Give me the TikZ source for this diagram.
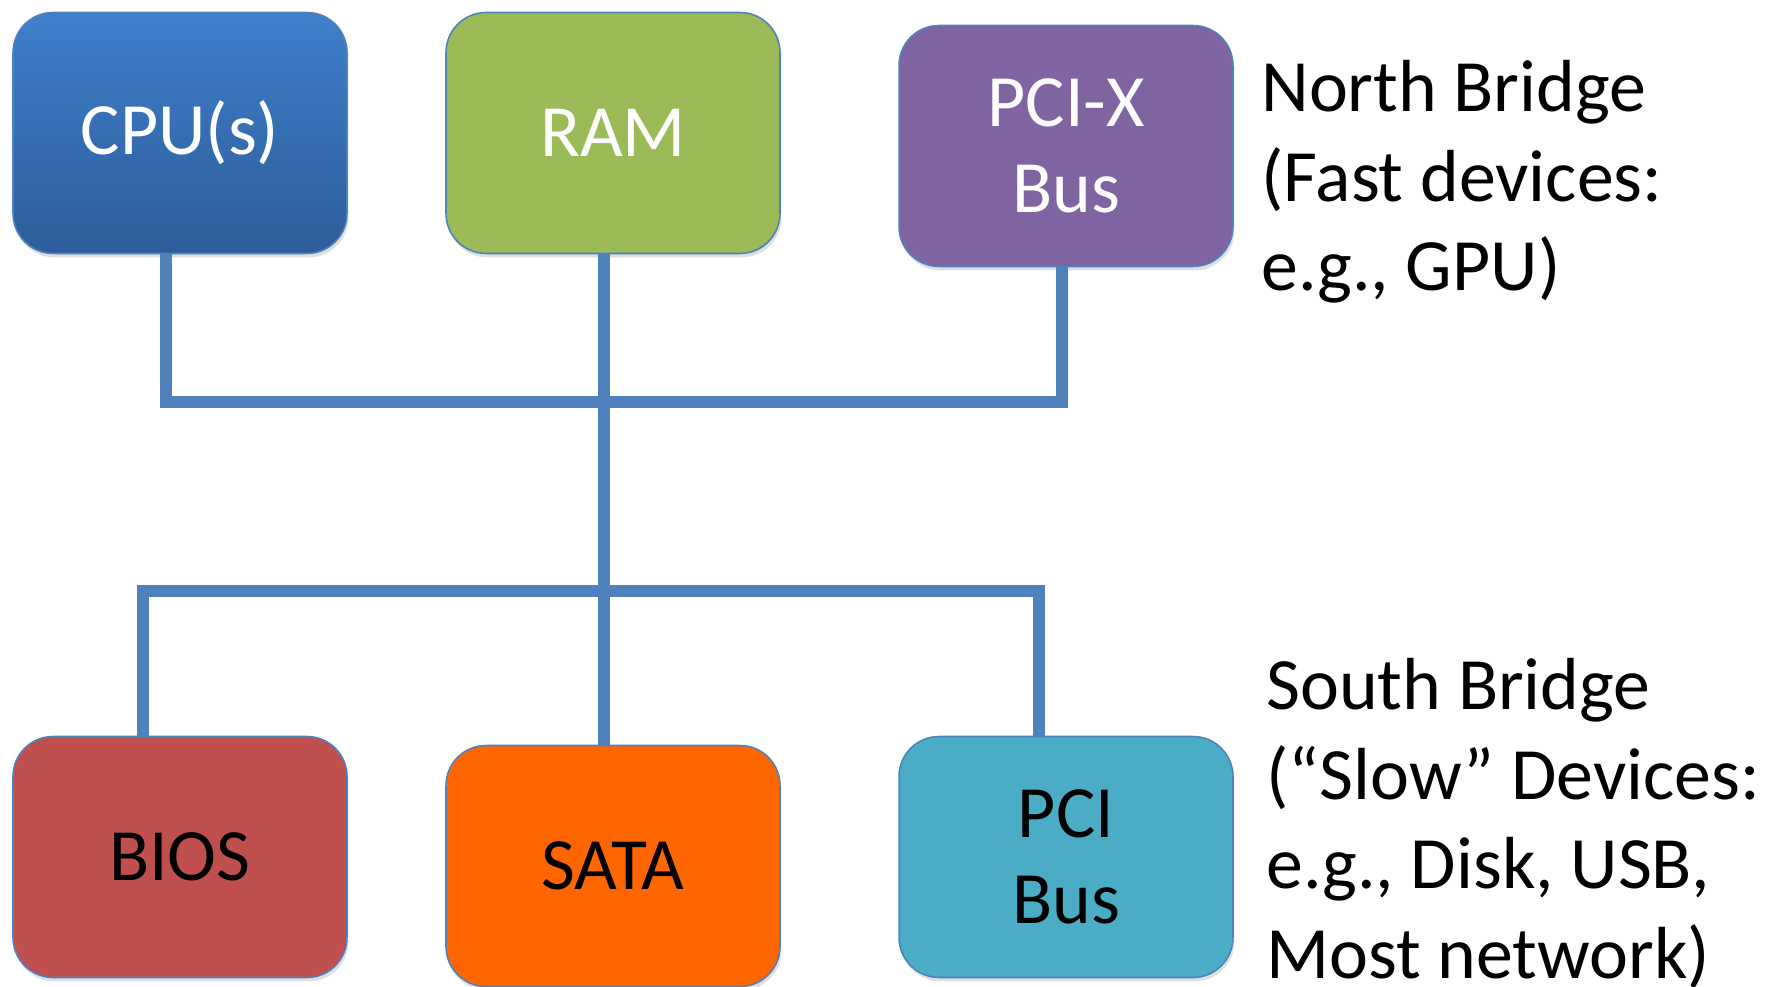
\documentclass[tikz,border=0pt]{standalone}
\usepackage{fontspec}
\setmainfont{Carlito}
\usetikzlibrary{shadows}
\definecolor{busblue}{HTML}{4F81BD}
\definecolor{cputop}{HTML}{3F7FCC}
\definecolor{cpubot}{HTML}{2D5D99}
\definecolor{ramgreen}{HTML}{9BBB59}
\definecolor{pcixpurple}{HTML}{8064A2}
\definecolor{biosred}{HTML}{C0504D}
\definecolor{sataorange}{HTML}{FF6600}
\definecolor{pcicyan}{HTML}{4BACC6}
\tikzset{
	dev/.style={draw=busblue,line width=0.9pt,rounded corners=0.8cm,
		minimum width=6.68cm,minimum height=4.82cm,inner sep=0pt,align=center,
		font=\fontsize{42}{49}\selectfont,
		drop shadow={opacity=0.25,shadow xshift=0.03cm,shadow yshift=-0.08cm}},
	bus/.style={busblue,line width=0.25cm,line join=miter},
	note/.style={anchor=north west,align=left,inner sep=0pt,
		font=\fontsize{42}{51}\selectfont}
}

\begin{document}
\begin{tikzpicture}[x=0.02cm,y=-0.02cm]
					\useasboundingbox (0,0) rectangle (1769,987);
					
					% Fast devices
					\node[dev,top color=cputop,bottom color=cpubot,text=white] (cpu) at (180,133) {CPU(s)};
					\node[dev,fill=ramgreen,text=white] (ram) at (613,133) {RAM};
					\node[dev,fill=pcixpurple,text=white] (pcix) at (1066,146) {PCI-X\\Bus};
					
					% Slow devices
					\node[dev,fill=biosred] (bios) at (180,857) {BIOS};
					\node[dev,fill=sataorange] (sata) at (613,866) {SATA};
					\node[dev,fill=pcicyan] (pci) at (1066,857) {PCI\\Bus};
					
					% Bus junctions
					\coordinate (nj) at (604,402);
					\coordinate (sj) at (604,591);
					
					% Wiring
					\draw[bus] ([xshift=-0.28cm]cpu.south) |- (nj) -| ([xshift=-0.08cm]pcix.south);
					\draw[bus] ([xshift=-0.18cm]ram.south) -- ([xshift=-0.18cm]sata.north);
					\draw[bus] ([xshift=-0.74cm]bios.north) |- (sj) -| ([xshift=-0.54cm]pci.north);
					
					% Bridge notes
					\node[note] (north) at (1261,60) {North Bridge\\(Fast devices:\\e.g., GPU)};
					\node[note] (south) at (1266,658) {South Bridge\\(“Slow” Devices:\\e.g., Disk, USB,\\Most network)};
				\end{tikzpicture}
\end{document}
